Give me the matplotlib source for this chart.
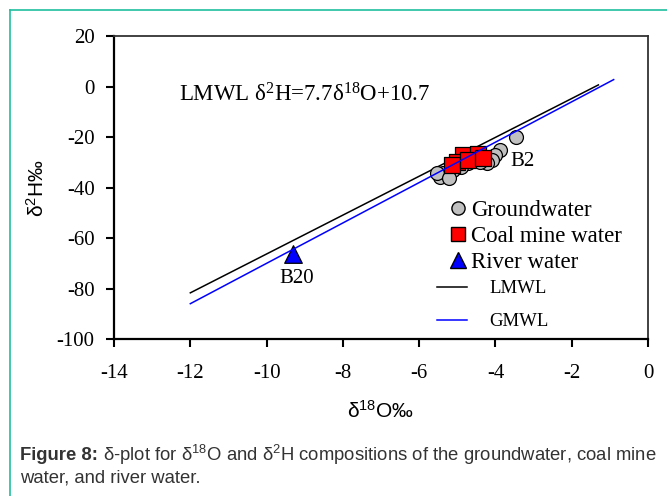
import matplotlib
matplotlib.use("Agg")
import matplotlib.pyplot as plt
from matplotlib.lines import Line2D

plt.rcParams["mathtext.default"] = "regular"

# ---- data ----
gw_o = [-3.47, -3.88, -4.01, -4.10, -4.23, -4.40, -4.72, -5.11, -5.28, -5.37, -5.45, -5.54, -5.22, -4.90]
gw_h = [-19.9, -25.1, -27.1, -29.1, -30.4, -29.8, -30.4, -33.1, -35.0, -34.4, -35.7, -34.4, -36.0, -32.0]

cm_o = [-4.85, -4.46, -5.02, -5.15, -4.72, -4.32]
cm_h = [-27.1, -26.5, -29.8, -31.1, -29.1, -28.3]

rw_o = [-9.3]
rw_h = [-66.3]

lmwl_o = [-12.0, -1.3]
lmwl_h = [-81.7, 0.7]
gmwl_o = [-12.0, -0.9]
gmwl_h = [-86.0, 2.8]

xticks = [-14, -12, -10, -8, -6, -4, -2, 0]
yticks = [20, 0, -20, -40, -60, -80, -100]

labels = [("B2", -3.28, -29.8), ("B20", -9.2, -76.2)]
eq_text = "LMWL δ$^{2}$H=7.7δ$^{18}$O+10.7"

SERIF = ["Liberation Serif", "DejaVu Serif"]
SANS = ["Liberation Sans", "DejaVu Sans"]

fig = plt.figure(figsize=(6.67, 4.96), dpi=100)
ax = fig.add_axes([0.171, 0.3165, 0.8005, 0.6105])

ax.plot(lmwl_o, lmwl_h, color="black", lw=1.1, zorder=2)
ax.plot(gmwl_o, gmwl_h, color="#0000ff", lw=1.1, zorder=4)
ax.scatter(gw_o, gw_h, s=100, marker="o", facecolor="#c0c0c0", edgecolor="black", linewidths=0.9, zorder=3)
ax.scatter(cm_o, cm_h, s=125, marker="s", facecolor="#ff0000", edgecolor="black", linewidths=0.9, zorder=3)
ax.scatter(rw_o, rw_h, s=160, marker="^", facecolor="#0000ff", edgecolor="black", linewidths=0.9, zorder=3)

for t, x, y in labels:
    ax.text(x, y, t, ha="center", va="center", fontsize=15, family=SERIF)
ax.text(-12.3, -3.4, eq_text, ha="left", va="center", fontsize=16.5, family=SERIF)

ax.set_xlim(-14, 0)
ax.set_ylim(-100, 20)
ax.set_xticks(xticks)
ax.set_yticks(yticks)
ax.set_xticklabels([str(v) for v in xticks], family=SERIF, fontsize=15)
ax.set_yticklabels([str(v) for v in yticks], family=SERIF, fontsize=15)
ax.tick_params(axis="x", direction="out", length=6, width=1.5, pad=12)
ax.tick_params(axis="y", direction="out", length=6, width=1.5, pad=8)
for s in ["left", "bottom"]:
    ax.spines[s].set_linewidth(1.6)
for s in ["top", "right"]:
    ax.spines[s].set_linewidth(1.3)
    ax.spines[s].set_color("#333333")

ax.set_xlabel("δ$^{18}$O‰", family=SANS, fontsize=15, labelpad=12)
ax.set_ylabel("δ$^{2}$H‰", family=SANS, fontsize=15, labelpad=6)

# legends
h1 = [
    Line2D([], [], marker="o", ls="none", markersize=9.5, markerfacecolor="#c0c0c0", markeredgecolor="black"),
    Line2D([], [], marker="s", ls="none", markersize=10, markerfacecolor="#ff0000", markeredgecolor="black"),
    Line2D([], [], marker="^", ls="none", markersize=11, markerfacecolor="#0000ff", markeredgecolor="black"),
]
leg1 = ax.legend(h1, ["Groundwater", "Coal mine water", "River water"],
                 loc="upper left", bbox_to_anchor=(0.628, 0.458), frameon=False,
                 prop={"family": SERIF, "size": 16.5}, handlelength=0.75, handletextpad=0.2,
                 labelspacing=0.2, borderpad=0, borderaxespad=0)
ax.add_artist(leg1)
h2 = [Line2D([], [], color="black", lw=1.1), Line2D([], [], color="#0000ff", lw=1.1)]
ax.legend(h2, ["LMWL", "GMWL"], loc="upper left", bbox_to_anchor=(0.605, 0.195),
          frameon=False, prop={"family": SERIF, "size": 13.5}, handlelength=1.6,
          handletextpad=1.2, labelspacing=0.85, borderpad=0, borderaxespad=0)

# caption
cap_y1 = 1 - 455 / 496
cap_y2 = 1 - 478 / 496
t1 = fig.text(20 / 667, cap_y1, "Figure 8:", family=SANS, fontsize=13.3, weight="bold",
              color="#333333", ha="left", va="center")
fig.canvas.draw()
bb = t1.get_window_extent(renderer=fig.canvas.get_renderer())
fig.text((bb.x1 + 5) / 667, cap_y1,
         "δ-plot for δ$^{18}$O and δ$^{2}$H compositions of the groundwater, coal mine",
         family=SANS, fontsize=13.3, color="#333333", ha="left", va="center")
fig.text(20 / 667, cap_y2, "water, and river water.", family=SANS, fontsize=13.3,
         color="#333333", ha="left", va="center")

# teal border
teal = "#1fbf9f"
fig.add_artist(Line2D([10 / 667, 1], [1 - 10 / 496, 1 - 10 / 496], color=teal, lw=1.2, transform=fig.transFigure))
fig.add_artist(Line2D([10 / 667, 10 / 667], [0, 1 - 10 / 496], color=teal, lw=1.2, transform=fig.transFigure))

fig.savefig("out.png", dpi=100)
